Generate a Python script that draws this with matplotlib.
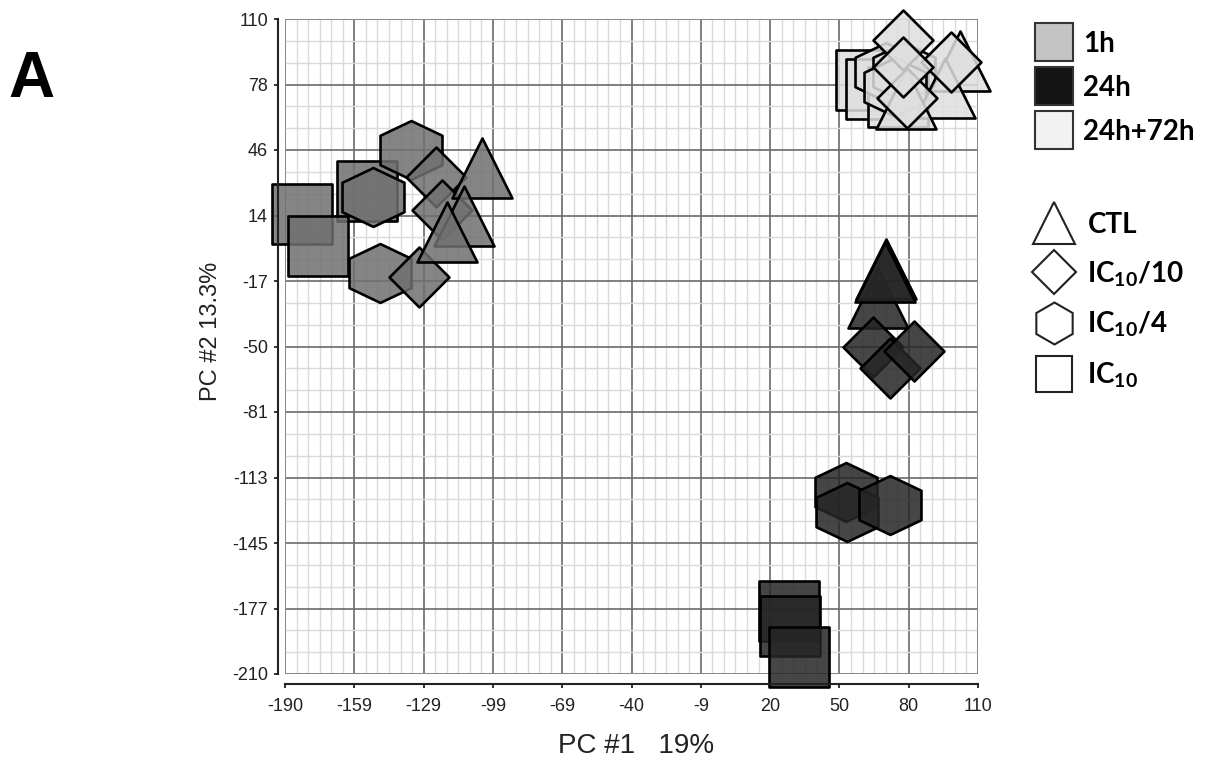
import matplotlib
matplotlib.use('Agg')
import matplotlib.pyplot as plt
from matplotlib.lines import Line2D
from matplotlib.path import Path
from matplotlib.patches import Rectangle
from matplotlib.colors import to_rgba
from matplotlib.font_manager import FontProperties
from matplotlib.ticker import AutoMinorLocator
import numpy as np

plt.rcParams['font.family'] = ['Liberation Sans', 'DejaVu Sans']
plt.rcParams['mathtext.fontset'] = 'custom'
plt.rcParams['mathtext.rm'] = 'Lato:bold'
plt.rcParams['mathtext.default'] = 'rm'

# axis tick labels as printed on the chart (evenly spaced grid)
x_tick_labels = ['-190', '-159', '-129', '-99', '-69', '-40', '-9', '20', '50', '80', '110']
y_tick_labels = ['110', '78', '46', '14', '-17', '-50', '-81', '-113', '-145', '-177', '-210']

times = ['1h', '24h', '24h+72h']
treatments = ['CTL', 'IC$_{10}$/10', 'IC$_{10}$/4', 'IC$_{10}$']

# PC1 / PC2 scores, lists ordered as treatments (CTL, IC10/10, IC10/4, IC10)
pc1_1h = [[-104.7, -112.5, -119.9], [-124.6, -122.0, -131.8], [-135.5, -152.0, -148.9], [-154.7, -182.6, -175.5]]
pc2_1h = [[37.2, 14.0, 5.7], [32.8, 16.9, -16.0], [46.2, 23.2, -14.1], [26.2, 14.5, -0.9]]

pc1_24h = [[66.7, 70.0, 69.7], [64.5, 71.9, 82.3], [52.9, 53.3, 71.9], [28.0, 28.4, 32.3]]
pc2_24h = [[-26.2, -12.1, -13.8], [-50.1, -60.5, -52.0], [-121.1, -130.8, -127.4], [-179.2, -186.5, -201.9]]

pc1_72h = [[102.2, 95.7, 79.0], [77.5, 79.3, 98.3, 77.6], [70.2, 78.0, 74.0], [61.5, 66.0, 75.4]]
pc2_72h = [[89.5, 76.4, 70.8], [99.7, 71.3, 89.1, 86.7], [83.9, 84.0, 77.0], [80.2, 76.0, 71.9]]

point_colors = ['#707070', '#262626', '#dfdfdf']
legend_colors = ['#c4c4c4', '#141414', '#f2f2f2']

hexagon = Path([(0, 0.95), (1, 0.475), (1, -0.475), (0, -0.95), (-1, -0.475), (-1, 0.475), (0, 0.95)], closed=True)
markers = ['^', 'D', hexagon, 's']
sizes = [1866, 931, 1990, 1866]
# drawing order of treatments per time point (index into treatments)
draw_order = [[3, 2, 1, 0], [3, 2, 0, 1], [3, 2, 0, 1]]

fig = plt.figure(figsize=(12.13, 7.61), dpi=100)
ax = fig.add_axes([285 / 1213, 1 - 674 / 761, 693 / 1213, 655 / 761])

groups = [(pc1_1h, pc2_1h), (pc1_24h, pc2_24h), (pc1_72h, pc2_72h)]
for g, (xs, ys) in enumerate(groups):
    fc = to_rgba(point_colors[g], 0.85)
    for t in draw_order[g]:
        for xv, yv in zip(xs[t], ys[t]):
            ax.scatter([xv], [yv], s=sizes[t], marker=markers[t], facecolor=fc,
                       edgecolor='black', linewidth=1.9, clip_on=False, zorder=2)

ax.set_xlim(-190, 110)
ax.set_ylim(-210, 110)
ax.set_xticks(np.linspace(-190, 110, len(x_tick_labels)), x_tick_labels)
ax.set_yticks(np.linspace(110, -210, len(y_tick_labels)), y_tick_labels)
ax.xaxis.set_minor_locator(AutoMinorLocator(6))
ax.yaxis.set_minor_locator(AutoMinorLocator(3))
ax.set_axisbelow(True)
ax.grid(which='minor', color='#dadada', linewidth=1.0)
ax.grid(which='major', color='#6a6a6a', linewidth=1.2)
ax.tick_params(which='minor', length=0)
ax.tick_params(axis='x', which='major', direction='out', length=3, width=1.3, color='#222222',
               labelsize=13, pad=6.5, labelcolor='#222222')
ax.tick_params(axis='y', which='major', direction='out', length=3, width=1.3, color='#222222',
               labelsize=13, pad=4.3, labelcolor='#222222')
for side in ['top', 'right']:
    ax.spines[side].set_visible(False)
ax.spines['left'].set_position(('outward', 5))
ax.spines['bottom'].set_position(('outward', 7.5))
for side in ['left', 'bottom']:
    ax.spines[side].set_linewidth(1.5)
    ax.spines[side].set_color('#222222')
ax.add_patch(Rectangle((0, 0), 1, 1, transform=ax.transAxes, fill=False,
                       edgecolor='#8a8a8a', linewidth=1.2, zorder=0.6))

ax.set_xlabel('PC #1   19%', fontsize=20, color='#222222')
ax.set_ylabel('PC #2 13.3%', fontsize=17, color='#222222')
ax.xaxis.set_label_coords((636 - 285) / 693, (674 - 746) / 655)
ax.xaxis.label.set_va('center')
ax.yaxis.set_label_coords((211 - 285) / 693, (674 - 331) / 655)
ax.yaxis.label.set_va('center')

fig.text(8 / 1213, 1 - 97 / 761, 'A', fontsize=46, fontweight='bold', va='baseline', ha='left')

legend_font = FontProperties(family='Lato', weight='bold', size=20)
time_handles = [Line2D([], [], ls='none', marker='s', ms=27, mfc=c, mec='#333333', mew=1.5)
                for c in legend_colors]
leg1 = fig.legend(time_handles, times, loc='upper left', bbox_to_anchor=(1036 / 1213, 1 - 31 / 761),
                  frameon=False, prop=legend_font, handlelength=1.3, handletextpad=0.4,
                  labelspacing=0.64, borderaxespad=0, borderpad=0)

legend_markers = ['^', 'D', 'h', 's']
legend_ms = [30, 22.4, 30.2, 26.6]
treat_handles = [Line2D([], [], ls='none', marker=m, ms=s, mfc='white', mec='#222222', mew=1.5)
                 for m, s in zip(legend_markers, legend_ms)]
leg2 = fig.legend(treat_handles, treatments, loc='upper left', bbox_to_anchor=(1036 / 1213, 1 - 212 / 761),
                  frameon=False, prop=legend_font, handlelength=1.3, handletextpad=0.55,
                  labelspacing=0.76, borderaxespad=0, borderpad=0)

fig.savefig('out.png', dpi=100)
